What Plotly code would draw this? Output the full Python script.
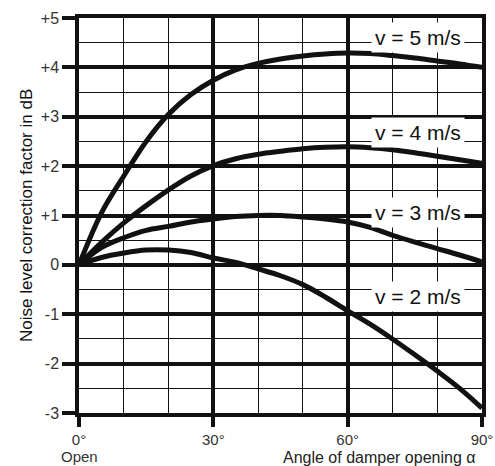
import plotly.graph_objects as go

# angle of damper opening (degrees)
angle = [0, 5, 10, 15, 20, 25, 30, 35, 40, 45, 50, 55, 60, 65, 70, 75, 80, 85, 90]

# noise level correction (dB)
v5 = [0, 1.05, 1.8, 2.5, 3.05, 3.45, 3.74, 3.95, 4.08, 4.17, 4.23, 4.27, 4.29, 4.28, 4.24, 4.19, 4.13, 4.07, 4.0]
v4 = [0, 0.45, 0.85, 1.2, 1.52, 1.8, 2.01, 2.15, 2.24, 2.3, 2.35, 2.38, 2.39, 2.37, 2.33, 2.27, 2.2, 2.13, 2.06]
v3 = [0, 0.35, 0.55, 0.7, 0.78, 0.87, 0.93, 0.98, 1.0, 1.0, 0.97, 0.93, 0.87, 0.76, 0.6, 0.46, 0.33, 0.2, 0.06]
v2 = [0, 0.15, 0.24, 0.3, 0.3, 0.25, 0.14, 0.05, -0.08, -0.22, -0.4, -0.65, -0.93, -1.2, -1.5, -1.82, -2.15, -2.5, -2.9]

series = [("v = 5 m/s", v5, 4.6), ("v = 4 m/s", v4, 2.69),
          ("v = 3 m/s", v3, 1.07), ("v = 2 m/s", v2, -0.65)]

y_ticks = [-3, -2, -1, 0, 1, 2, 3, 4, 5]
y_text = ["-3", "-2", "-1", "0", "+1", "+2", "+3", "+4", "+5"]
x_ticks = [0, 30, 60, 90]
x_text = ["0°", "30°", "60°", "90°"]

FONT = "Liberation Sans, Arial, sans-serif"

fig = go.Figure()

for name, vals, ylab in series:
    fig.add_trace(go.Scatter(x=angle, y=vals, mode="lines", name=name,
                             line=dict(color="#111111", width=5, shape="spline"),
                             showlegend=False))
    fig.add_annotation(x=75.8, y=ylab, text=name, showarrow=False,
                       font=dict(family=FONT, size=21, color="#111111"),
                       bgcolor="white", borderpad=3)

fig.add_annotation(x=0, yref="paper", y=0, yanchor="middle", yshift=-43,
                   text="Open", showarrow=False,
                   font=dict(family=FONT, size=15, color="#333333"))
fig.add_annotation(xref="paper", yref="paper", x=1, y=0, xanchor="right", yanchor="top",
                   xshift=-4, yshift=-34, text="Angle of damper opening α", showarrow=False,
                   font=dict(family=FONT, size=16, color="#222222"))
fig.add_annotation(xref="paper", yref="paper", x=0, y=0.5, xshift=-64, textangle=-90,
                   text="Noise level correction factor in dB", showarrow=False,
                   font=dict(family=FONT, size=17, color="#111111"))

fig.update_xaxes(range=[0, 90], tickvals=x_ticks, ticktext=x_text, automargin=False,
                 showgrid=True, gridcolor="#111111", gridwidth=3.5,
                 minor=dict(dtick=10, showgrid=True, gridcolor="#111111", gridwidth=1.2),
                 ticks="outside", ticklen=10, tickwidth=3.5, tickcolor="#111111",
                 showline=True, mirror=True, linewidth=3.5, linecolor="#111111",
                 zeroline=False, tickfont=dict(family=FONT, size=15, color="#333333"))
fig.update_yaxes(range=[-3, 5], tickvals=y_ticks, ticktext=y_text, automargin=False,
                 showgrid=True, gridcolor="#111111", gridwidth=3.5,
                 minor=dict(dtick=0.5, showgrid=True, gridcolor="#111111", gridwidth=1.2),
                 ticks="outside", ticklen=13, tickwidth=3.5, tickcolor="#111111",
                 showline=True, mirror=True, linewidth=3.5, linecolor="#111111",
                 zeroline=False, tickfont=dict(family=FONT, size=16, color="#333333"))

fig.update_layout(width=495, height=466, margin=dict(l=79, r=13, t=18, b=53),
                  paper_bgcolor="white", plot_bgcolor="white")

fig.write_html("out.html", config={"displayModeBar": False},
               post_script="document.body.style.margin='0';")
